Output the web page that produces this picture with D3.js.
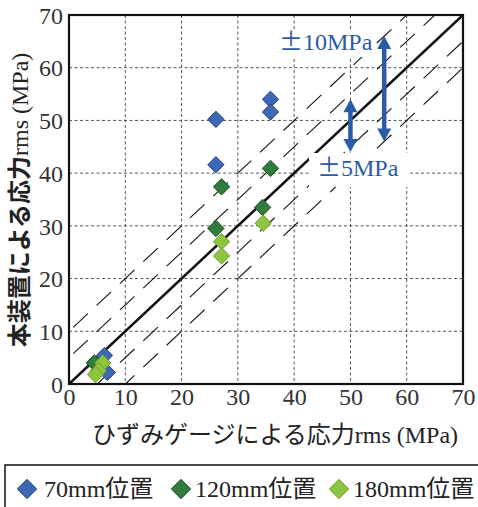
<!DOCTYPE html>
<html>
<head>
<meta charset="utf-8">
<script src="https://cdn.jsdelivr.net/npm/d3@7"></script>
<style>
  body { margin: 0; background: #fff; }
</style>
</head>
<body>
<div id="wrapper"></div>
<script>
// series values
const series = ['70mm位置', '120mm位置', '180mm位置']
const gauge70 = [26.1, 26.1, 35.8, 35.8, 6.3, 6.8]
const device70 = [50.2, 41.6, 54.0, 51.6, 5.4, 2.2]
const gauge120 = [27.1, 35.8, 34.4, 26.1, 4.5]
const device120 = [37.4, 40.9, 33.5, 29.5, 4.0]
const gauge180 = [27.1, 27.1, 34.5, 6.0, 5.2, 4.7]
const device180 = [27.0, 24.3, 30.5, 4.0, 2.5, 1.8]
const tickValues = [0, 10, 20, 30, 40, 50, 60, 70]
const bandOffsets = [-10, -5, 5, 10]
const arrowX = [56, 50]
const arrowCenter = [56, 49]
const arrowHalf = [10, 5]
const arrowLabels = ['±10MPa', '±5MPa']

const colors = [
  { fill: '#3c68b6', stroke: '#243f7a' },
  { fill: '#2f7c3c', stroke: '#1b4a24' },
  { fill: '#8cc53f', stroke: '#7c9a2c' },
]
const blue = '#2b5ba8'
const serif = '"Liberation Serif", "Times New Roman", serif'
const cjk = '"Noto Sans CJK JP", sans-serif'

const width = 478
const height = 507
let dimensions = {
  width: width,
  height: height,
  margin: { top: 15, right: 15, bottom: 123, left: 69 },
}
dimensions.boundedWidth = dimensions.width - dimensions.margin.left - dimensions.margin.right
dimensions.boundedHeight = dimensions.height - dimensions.margin.top - dimensions.margin.bottom

const data = [
  gauge70.map((g, i) => ({ g, d: device70[i], s: 0 })),
  gauge120.map((g, i) => ({ g, d: device120[i], s: 1 })),
  gauge180.map((g, i) => ({ g, d: device180[i], s: 2 })),
]

const wrapper = d3.select('#wrapper')
  .append('svg')
  .attr('width', dimensions.width)
  .attr('height', dimensions.height)

const bounds = wrapper.append('g')
  .attr('transform', `translate(${dimensions.margin.left},${dimensions.margin.top})`)

const xScale = d3.scaleLinear()
  .domain([0, 70])
  .range([0, dimensions.boundedWidth])
const yScale = d3.scaleLinear()
  .domain([0, 70])
  .range([dimensions.boundedHeight, 0])

bounds.append('clipPath').attr('id', 'plot-clip')
  .append('rect')
  .attr('width', dimensions.boundedWidth)
  .attr('height', dimensions.boundedHeight)

// dotted grid
const grid = bounds.append('g')
grid.selectAll('.gx')
  .data(tickValues.slice(1, -1))
  .enter().append('line')
  .attr('x1', d => xScale(d)).attr('x2', d => xScale(d))
  .attr('y1', 0).attr('y2', dimensions.boundedHeight)
  .attr('stroke', '#555').attr('stroke-width', 1)
  .attr('stroke-dasharray', '3 2.5')
grid.selectAll('.gy')
  .data(tickValues.slice(1, -1))
  .enter().append('line')
  .attr('y1', d => yScale(d)).attr('y2', d => yScale(d))
  .attr('x1', 0).attr('x2', dimensions.boundedWidth)
  .attr('stroke', '#555').attr('stroke-width', 1)
  .attr('stroke-dasharray', '3 2.5')

// ±5 / ±10 bands
const lines = bounds.append('g').attr('clip-path', 'url(#plot-clip)')
lines.selectAll('.band')
  .data(bandOffsets)
  .enter().append('line')
  .attr('x1', d => xScale(-20)).attr('y1', d => yScale(-20 + d))
  .attr('x2', d => xScale(90)).attr('y2', d => yScale(90 + d))
  .attr('stroke', '#111').attr('stroke-width', 1.1)
  .attr('stroke-dasharray', '20 12')

lines.append('line')
  .attr('x1', xScale(0)).attr('y1', yScale(0))
  .attr('x2', xScale(70)).attr('y2', yScale(70))
  .attr('stroke', '#111').attr('stroke-width', 2.6)

// white patches behind the annotation labels
bounds.append('rect')
  .attr('x', 240).attr('y', 138)
  .attr('width', 101).attr('height', 34)
  .attr('fill', '#fff')
bounds.append('rect')
  .attr('x', 207).attr('y', 14)
  .attr('width', 100).attr('height', 28)
  .attr('fill', '#fff')

// markers
const diamond = d3.symbol().type(d3.symbolDiamond2).size(170)
data.forEach(points => {
  bounds.append('g').selectAll('path')
    .data(points)
    .enter().append('path')
    .attr('d', diamond)
    .attr('transform', d => `translate(${xScale(d.g)},${yScale(d.d)})`)
    .attr('fill', d => colors[d.s].fill)
    .attr('stroke', d => colors[d.s].stroke)
    .attr('stroke-width', 1)
})

// double arrows
const head = 13
arrowX.forEach((ax, i) => {
  const x = xScale(ax)
  const yTop = yScale(arrowCenter[i] + arrowHalf[i])
  const yBot = yScale(arrowCenter[i] - arrowHalf[i])
  bounds.append('line')
    .attr('x1', x).attr('x2', x)
    .attr('y1', yTop + head - 2).attr('y2', yBot - head + 2)
    .attr('stroke', blue).attr('stroke-width', 4.5)
  bounds.append('path')
    .attr('d', `M${x},${yTop} L${x - 7},${yTop + head} L${x + 7},${yTop + head} Z`)
    .attr('fill', blue)
  bounds.append('path')
    .attr('d', `M${x},${yBot} L${x - 7},${yBot - head} L${x + 7},${yBot - head} Z`)
    .attr('fill', blue)
})

function annotate(label, x, y) {
  const t = bounds.append('text')
    .attr('x', x).attr('y', y)
    .attr('fill', blue)
    .style('font-size', '24px')
  t.append('tspan').text(label.slice(0, 1)).style('font-family', cjk)
  t.append('tspan').text(label.slice(1)).style('font-family', serif)
}
annotate(arrowLabels[0], 210, 35)
annotate(arrowLabels[1], 248, 161)

// frame
bounds.append('rect')
  .attr('width', dimensions.boundedWidth)
  .attr('height', dimensions.boundedHeight)
  .attr('fill', 'none')
  .attr('stroke', '#111').attr('stroke-width', 2.2)

// axes
const xAxis = bounds.append('g')
  .attr('transform', `translate(0,${dimensions.boundedHeight})`)
  .call(d3.axisBottom(xScale).tickValues(tickValues).tickSize(0).tickPadding(4))
const yAxis = bounds.append('g')
  .call(d3.axisLeft(yScale).tickValues(tickValues).tickSize(0).tickPadding(6))
;[xAxis, yAxis].forEach(ax => {
  ax.select('.domain').remove()
  ax.selectAll('text')
    .attr('fill', '#333')
    .style('font-family', serif)
    .style('font-size', '24px')
})
yAxis.selectAll('text').attr('dy', '0.34em')

// axis titles
const xTitle = wrapper.append('text')
  .attr('x', 275).attr('y', 443)
  .attr('text-anchor', 'middle')
  .attr('fill', '#222')
  .style('font-size', '24px')
xTitle.append('tspan').text('ひずみゲージによる応力')
  .style('font-family', cjk)
xTitle.append('tspan').text('rms (MPa)')
  .style('font-family', serif)

const yTitle = wrapper.append('text')
  .attr('transform', 'translate(28,200) rotate(-90)')
  .attr('text-anchor', 'middle')
  .attr('fill', '#222')
  .style('font-size', '24px')
yTitle.append('tspan').text('本装置による応力')
  .style('font-family', cjk)
  .style('font-weight', 'bold')
yTitle.append('tspan').text('rms (MPa)')
  .style('font-family', serif)

// legend
const legend = wrapper.append('g')
legend.append('rect')
  .attr('x', 5).attr('y', 465)
  .attr('width', 480).attr('height', 50)
  .attr('fill', '#fff')
  .attr('stroke', '#111').attr('stroke-width', 1.5)
const legendDiamond = d3.symbol().type(d3.symbolDiamond2).size(240)
const legendX = [27, 181, 339]
series.forEach((name, i) => {
  legend.append('path')
    .attr('d', legendDiamond)
    .attr('transform', `translate(${legendX[i]},489)`)
    .attr('fill', colors[i].fill)
    .attr('stroke', colors[i].stroke)
  const t = legend.append('text')
    .attr('x', legendX[i] + (i === 0 ? 17 : 14)).attr('y', 497)
    .attr('fill', '#222')
    .style('font-size', '24px')
  t.append('tspan').text(name.replace('位置', '')).style('font-family', serif)
  t.append('tspan').text('位置').style('font-family', cjk)
})
</script>
</body>
</html>
